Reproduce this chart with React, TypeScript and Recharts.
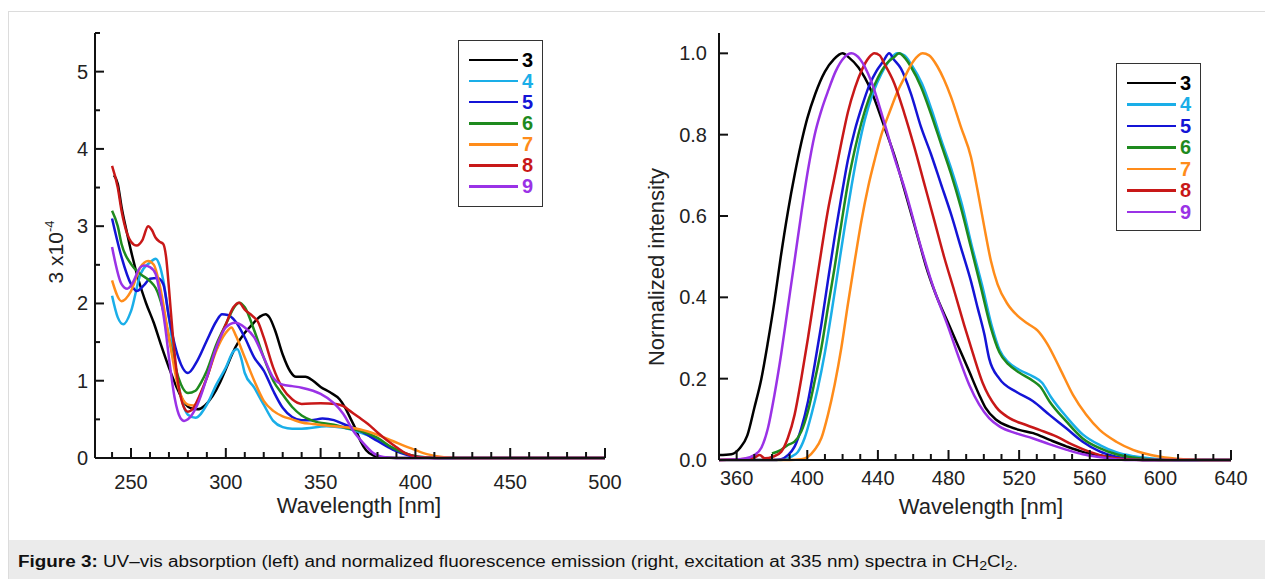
import { LineChart, Line, XAxis, YAxis } from 'recharts'

// series labels and colours (shared by both panels)
const seriesNames = ['3', '4', '5', '6', '7', '8', '9']
const seriesColors = ['#000000', '#1aaee8', '#1414d6', '#1e8a1e', '#ff8c1a', '#c81818', '#9a32e6']

// UV-vis absorption, [wavelength nm, eps x10^-4]
const abs3: [number, number][] = [
  [241, 3.66], [243, 3.55], [245, 3.25], [248, 2.9], [250, 2.68], [254, 2.3], [258, 2.0], [262, 1.75],
  [266, 1.45], [270, 1.17], [274, 0.92], [278, 0.72], [282, 0.64], [285, 0.63], [289, 0.68], [293, 0.8],
  [297, 0.98], [300, 1.15], [305, 1.43], [310, 1.62], [314, 1.73], [318, 1.83], [321, 1.86], [323, 1.82],
  [326, 1.65], [330, 1.34], [334, 1.12], [337, 1.05], [342, 1.05], [346, 1.0], [350, 0.92], [355, 0.85],
  [360, 0.76], [363, 0.65], [366, 0.5], [368, 0.4], [371, 0.22], [374, 0.1], [378, 0.03], [382, 0.01],
  [390, 0], [500, 0],
]
const abs4: [number, number][] = [
  [240, 2.1], [243, 1.82], [246, 1.73], [250, 1.9], [255, 2.38], [260, 2.53], [263, 2.58], [265, 2.5],
  [267, 2.3], [270, 1.82], [275, 0.95], [280, 0.56], [284, 0.52], [290, 0.69], [295, 0.95], [300, 1.17],
  [304, 1.38], [306, 1.41], [308, 1.3], [310, 1.1], [315, 0.91], [320, 0.69], [325, 0.48], [330, 0.4],
  [335, 0.38], [340, 0.38], [353, 0.41], [362, 0.39], [371, 0.33], [380, 0.24], [388, 0.13], [397, 0.04],
  [405, 0.01], [412, 0], [500, 0],
]
const abs5: [number, number][] = [
  [240, 3.1], [245, 2.6], [250, 2.25], [253, 2.16], [257, 2.24], [260, 2.32], [264, 2.33], [267, 2.25],
  [270, 1.82], [275, 1.3], [280, 1.1], [285, 1.26], [290, 1.52], [295, 1.77], [298, 1.86], [301, 1.85],
  [305, 1.77], [310, 1.56], [315, 1.3], [320, 1.13], [325, 0.87], [330, 0.65], [335, 0.53], [340, 0.49],
  [345, 0.49], [351, 0.51], [357, 0.49], [362, 0.44], [371, 0.35], [380, 0.22], [388, 0.11], [397, 0.03],
  [403, 0.005], [410, 0], [500, 0],
]
const abs6: [number, number][] = [
  [240, 3.2], [243, 3.0], [245, 2.77], [250, 2.51], [255, 2.38], [260, 2.29], [263, 2.2], [265, 2.08],
  [268, 1.8], [270, 1.56], [275, 1.04], [280, 0.84], [284, 0.87], [287, 0.98], [290, 1.13], [295, 1.47],
  [300, 1.73], [305, 1.97], [307, 2.01], [310, 1.95], [315, 1.65], [320, 1.3], [325, 1.0], [330, 0.82],
  [335, 0.66], [340, 0.55], [346, 0.48], [357, 0.43], [365, 0.38], [371, 0.35], [380, 0.26], [388, 0.13],
  [397, 0.04], [406, 0.005], [412, 0], [500, 0],
]
const abs7: [number, number][] = [
  [240, 2.3], [245, 2.03], [250, 2.16], [255, 2.47], [259, 2.55], [262, 2.5], [265, 2.25], [270, 1.56],
  [275, 0.91], [280, 0.69], [283, 0.68], [290, 1.04], [295, 1.39], [300, 1.62], [303, 1.69], [305, 1.6],
  [310, 1.3], [315, 1.0], [320, 0.74], [325, 0.61], [330, 0.54], [335, 0.5], [340, 0.46], [346, 0.44],
  [357, 0.41], [371, 0.37], [380, 0.3], [388, 0.22], [397, 0.13], [406, 0.05], [415, 0.01], [422, 0],
  [500, 0],
]
const abs8: [number, number][] = [
  [240, 3.78], [243, 3.5], [245, 3.2], [248, 2.9], [250, 2.8], [253, 2.75], [256, 2.82], [259, 3.0],
  [261, 2.95], [263, 2.85], [265, 2.8], [267, 2.77], [268.5, 2.6], [270, 2.2], [272, 1.6], [275, 0.95],
  [278, 0.65], [280, 0.6], [283, 0.65], [286, 0.8], [290, 1.04], [295, 1.43], [300, 1.73], [304, 1.95],
  [307, 2.01], [310, 1.92], [314, 1.84], [317, 1.76], [320, 1.56], [325, 1.17], [330, 0.9], [335, 0.76],
  [340, 0.7], [350, 0.71], [358, 0.7], [362, 0.67], [366, 0.6], [370, 0.53], [375, 0.44], [380, 0.33],
  [385, 0.23], [390, 0.14], [395, 0.06], [400, 0.02], [405, 0.005], [410, 0], [500, 0],
]
const abs9: [number, number][] = [
  [240, 2.73], [245, 2.25], [248, 2.19], [250, 2.23], [255, 2.47], [257, 2.49], [260, 2.47], [263, 2.38],
  [265, 2.16], [268, 1.7], [270, 1.3], [273, 0.78], [276, 0.52], [278, 0.48], [280, 0.5], [285, 0.69],
  [290, 1.04], [295, 1.43], [300, 1.69], [305, 1.75], [310, 1.69], [315, 1.56], [320, 1.3], [325, 1.04],
  [330, 0.95], [335, 0.93], [340, 0.91], [346, 0.87], [350, 0.83], [357, 0.71], [362, 0.57], [367, 0.36],
  [373, 0.18], [378, 0.06], [385, 0.005], [390, 0], [500, 0],
]

// normalized fluorescence emission, [wavelength nm, intensity]
const em3: [number, number][] = [
  [350, 0.012], [357, 0.014], [362, 0.03], [366, 0.06], [370, 0.128], [374, 0.2], [377.7, 0.29],
  [381.4, 0.39], [385, 0.5], [389, 0.61], [393, 0.705], [396.6, 0.78], [400, 0.84], [404.5, 0.9],
  [410, 0.955], [415, 0.985], [420, 1.0], [423.5, 0.99], [429, 0.965], [436, 0.91], [443.6, 0.82],
  [450, 0.74], [455, 0.665], [464.4, 0.52], [467, 0.48], [473, 0.405], [480, 0.335], [486, 0.275],
  [491.7, 0.218], [497.4, 0.16], [501, 0.128], [507, 0.099], [514.5, 0.082], [520, 0.074], [528, 0.066],
  [537, 0.05], [547, 0.033], [556, 0.02], [566, 0.011], [575, 0.004], [590, 0], [640, 0],
]
const em4: [number, number][] = [
  [350, 0], [385, 0], [390.9, 0.008], [394.7, 0.02], [398.5, 0.054], [402.3, 0.111], [406, 0.177],
  [409.8, 0.26], [413.6, 0.359], [417.4, 0.466], [421.2, 0.573], [425, 0.672], [428.8, 0.763],
  [432.6, 0.837], [437, 0.9], [442, 0.95], [447, 0.985], [451, 1.0], [455, 0.995], [459, 0.972],
  [465, 0.925], [470.5, 0.86], [476, 0.785], [482, 0.71], [487.5, 0.63], [493, 0.53], [499, 0.43],
  [504.5, 0.33], [509, 0.27], [514, 0.24], [520, 0.222], [528, 0.205], [533, 0.19], [538, 0.155],
  [547, 0.105], [556, 0.063], [566, 0.036], [575, 0.019], [585, 0.009], [600, 0.002], [610, 0], [640, 0],
]
const em5: [number, number][] = [
  [350, 0], [380, 0], [385.2, 0.002], [389, 0.012], [392.8, 0.033], [396.6, 0.078], [400.4, 0.144],
  [404.2, 0.235], [408, 0.334], [411.7, 0.441], [415.5, 0.548], [419.3, 0.647], [423, 0.738],
  [427, 0.812], [431, 0.87], [435, 0.92], [439, 0.955], [443, 0.98], [446.4, 1.0], [449, 0.985],
  [453, 0.963], [458.7, 0.901], [464.4, 0.819], [470, 0.753], [475.7, 0.679], [481.4, 0.605],
  [487, 0.523], [492.7, 0.44], [496.5, 0.374], [500.3, 0.309], [503, 0.25], [508.8, 0.2], [518.3, 0.168],
  [527.7, 0.145], [537.2, 0.111], [546.7, 0.078], [556, 0.045], [565.6, 0.021], [575, 0.008], [590, 0],
  [640, 0],
]
const em6: [number, number][] = [
  [380, 0.016], [385.2, 0.025], [389, 0.037], [392.8, 0.045], [396.6, 0.07], [400.4, 0.12],
  [404.2, 0.194], [408, 0.276], [411.7, 0.375], [415.5, 0.474], [419.3, 0.581], [423, 0.68],
  [426.9, 0.763], [430.7, 0.83], [435, 0.89], [440, 0.94], [445, 0.975], [449, 0.99], [452, 1.0],
  [455, 0.99], [458.7, 0.967], [464.4, 0.918], [470, 0.852], [475.7, 0.778], [481.4, 0.704], [487, 0.621],
  [492.7, 0.523], [498.4, 0.424], [504, 0.325], [508.8, 0.265], [514, 0.235], [520, 0.215], [527.7, 0.195],
  [532, 0.18], [537.2, 0.144], [546.7, 0.095], [556, 0.053], [565.6, 0.029], [575, 0.014], [584.5, 0.006],
  [600, 0], [640, 0],
]
const em7: [number, number][] = [
  [350, 0], [390, 0], [396.6, 0.002], [400.4, 0.008], [404.2, 0.025], [408, 0.054], [411.7, 0.111],
  [415.5, 0.185], [419.3, 0.276], [423, 0.383], [426.9, 0.49], [430.7, 0.589], [434.5, 0.672],
  [438.3, 0.74], [442, 0.8], [447, 0.86], [451, 0.905], [455, 0.94], [460, 0.98], [465.3, 1.0],
  [469, 0.995], [473.8, 0.967], [477.5, 0.935], [481.4, 0.893], [487, 0.819], [492.7, 0.745],
  [496.5, 0.662], [500.3, 0.572], [504, 0.49], [507.8, 0.432], [513.5, 0.383], [519, 0.355], [525, 0.335],
  [530.5, 0.318], [536, 0.285], [543, 0.226], [550.5, 0.16], [558, 0.111], [565.6, 0.074], [575, 0.045],
  [584.5, 0.025], [600, 0.008], [613, 0.002], [625, 0], [640, 0],
]
const em8: [number, number][] = [
  [350, 0], [365, 0.003], [370, 0.006], [373, 0.012], [376, 0.004], [380.5, 0.008], [385.2, 0.02],
  [389, 0.054], [392.8, 0.111], [396.6, 0.2], [400.4, 0.3], [404.2, 0.408], [408, 0.515], [411.7, 0.614],
  [415.5, 0.697], [419.3, 0.78], [423, 0.855], [427, 0.915], [431, 0.96], [435, 0.99], [438, 1.0],
  [441, 0.995], [443.6, 0.975], [449.3, 0.926], [455, 0.852], [460.6, 0.77], [466.3, 0.679], [472, 0.588],
  [477.6, 0.498], [483.3, 0.415], [489, 0.33], [493.6, 0.265], [499.3, 0.19], [507, 0.13], [514.5, 0.103],
  [524, 0.086], [531.5, 0.074], [541, 0.058], [550.5, 0.037], [560, 0.02], [569.4, 0.008], [580, 0.002],
  [590, 0], [640, 0],
]
const em9: [number, number][] = [
  [350, 0], [364, 0.003], [370, 0.012], [374, 0.03], [377.7, 0.078], [381.4, 0.16], [385.2, 0.26],
  [389, 0.375], [392.8, 0.49], [396.6, 0.606], [400.4, 0.713], [404.2, 0.8], [408, 0.86], [412, 0.91],
  [416, 0.955], [421, 0.99], [425, 1.0], [430, 0.985], [436, 0.934], [443.6, 0.83], [450, 0.735],
  [455, 0.67], [464.4, 0.523], [471, 0.43], [480, 0.325], [486, 0.25], [491.7, 0.185], [497.4, 0.136],
  [503, 0.103], [509, 0.082], [518, 0.066], [528, 0.053], [537, 0.039], [547, 0.025], [556, 0.014],
  [566, 0.007], [580, 0], [640, 0],
]

const absSeries = [abs3, abs4, abs5, abs6, abs7, abs8, abs9]
const emSeries = [em3, em4, em5, em6, em7, em8, em9]

// ticks
const absXTicks = [240, 250, 260, 270, 280, 290, 300, 310, 320, 330, 340, 350, 360, 370, 380, 390, 400,
  410, 420, 430, 440, 450, 460, 470, 480, 490, 500]
const absYTicks = [0, 0.5, 1, 1.5, 2, 2.5, 3, 3.5, 4, 4.5, 5, 5.5]
const emXTicks = [360, 370, 380, 390, 400, 410, 420, 430, 440, 450, 460, 470, 480, 490, 500, 510, 520,
  530, 540, 550, 560, 570, 580, 590, 600, 610, 620, 630, 640]
const emYTicks = [0, 0.2, 0.4, 0.6, 0.8, 1.0]

const FONT = '"Liberation Sans", Arial, sans-serif'
const INK = '#222'

const pts = (a: [number, number][]) => a.map(([x, y]) => ({ x, y }))

// inward ticks: long + labelled for majors, short for minors
const bottomTick = (isMajor: (v: number) => boolean, labelDy: number) => (props: any) => {
  const { x, y, payload } = props
  const v = payload.value
  const big = isMajor(v)
  return (
    <g>
      <line x1={x} x2={x} y1={y} y2={y - (big ? 10 : 6)} stroke="#111" strokeWidth={2} />
      {big && (
        <text x={x} y={y + labelDy} textAnchor="middle" fontSize={20} fill={INK} fontFamily={FONT}>
          {v}
        </text>
      )}
    </g>
  )
}

const leftTick = (isMajor: (v: number) => boolean, fmt: (v: number) => string, gap: number) => (props: any) => {
  const { x, y, payload } = props
  const v = payload.value
  const big = isMajor(v)
  return (
    <g>
      <line x1={x} x2={x + (big ? 9 : 5)} y1={y} y2={y} stroke="#111" strokeWidth={2} />
      {big && (
        <text x={x - gap} y={y} dy="0.35em" textAnchor="end" fontSize={20} fill={INK} fontFamily={FONT}>
          {fmt(v)}
        </text>
      )}
    </g>
  )
}

function LegendBox({ left, top, height, rowGap }: { left: number; top: number; height: number; rowGap: number }) {
  return (
    <div
      style={{
        position: 'absolute', left, top, width: 85, height, boxSizing: 'border-box',
        border: '1.5px solid #333', background: '#fff',
      }}
    >
      {seriesNames.map((name, i) => (
        <div
          key={name}
          style={{
            position: 'absolute', left: 10, top: 19 + i * rowGap - 12, height: 24,
            display: 'flex', alignItems: 'center',
          }}
        >
          <div style={{ width: 49, height: 2.5, background: seriesColors[i] }} />
          <span style={{ marginLeft: 4, color: seriesColors[i], fontWeight: 'bold', fontSize: 20, fontFamily: FONT }}>
            {name}
          </span>
        </div>
      ))}
    </div>
  )
}

function AbsorptionChart() {
  return (
    <LineChart width={640} height={530} margin={{ top: 33, right: 35, bottom: 12, left: 35 }}>
      <XAxis
        type="number"
        dataKey="x"
        domain={[231, 500]}
        ticks={absXTicks}
        interval={0}
        tickSize={0}
        tickMargin={0}
        tickLine={false}
        height={60}
        axisLine={{ stroke: '#111', strokeWidth: 2 }}
        tick={bottomTick((v) => v % 50 === 0, 31)}
        label={({ viewBox }: any) => (
          <text x={viewBox.x + viewBox.width / 2 + 9} y={viewBox.y + 55} textAnchor="middle" fontSize={22} fill={INK} fontFamily={FONT}>
            Wavelength [nm]
          </text>
        )}
      />
      <YAxis
        type="number"
        domain={[0, 5.5]}
        ticks={absYTicks}
        interval={0}
        tickSize={0}
        tickMargin={0}
        tickLine={false}
        width={60}
        axisLine={{ stroke: '#111', strokeWidth: 2 }}
        tick={leftTick((v) => Number.isInteger(v), (v) => String(v), 7)}
        label={() => (
          <text transform="rotate(-90, 63, 252)" x={63} y={252} textAnchor="middle" fontSize={21} fill={INK} fontFamily={FONT}>
            3 x10<tspan dy={-9} fontSize={13}>-4</tspan>
          </text>
        )}
      />
      {absSeries.map((s, i) => (
        <Line
          key={seriesNames[i]}
          data={pts(s)}
          dataKey="y"
          type="monotone"
          stroke={seriesColors[i]}
          strokeWidth={2.5}
          dot={false}
          activeDot={false}
          isAnimationActive={false}
        />
      ))}
    </LineChart>
  )
}

function EmissionChart() {
  return (
    <LineChart width={635} height={530} margin={{ top: 33, right: 34, bottom: 10, left: 25 }}>
      <XAxis
        type="number"
        dataKey="x"
        domain={[350, 640]}
        ticks={emXTicks}
        interval={0}
        tickSize={0}
        tickMargin={0}
        tickLine={false}
        height={60}
        axisLine={{ stroke: '#111', strokeWidth: 2 }}
        tick={bottomTick((v) => (v - 360) % 40 === 0, 25)}
        label={({ viewBox }: any) => (
          <text x={viewBox.x + viewBox.width / 2 + 6} y={viewBox.y + 54} textAnchor="middle" fontSize={22} fill={INK} fontFamily={FONT}>
            Wavelength [nm]
          </text>
        )}
      />
      <YAxis
        type="number"
        domain={[0, 1.05]}
        ticks={emYTicks}
        interval={0}
        tickSize={0}
        tickMargin={0}
        tickLine={false}
        width={64}
        axisLine={{ stroke: '#111', strokeWidth: 2 }}
        tick={leftTick(() => true, (v) => v.toFixed(1), 12)}
        label={() => (
          <text transform="rotate(-90, 34, 267)" x={34} y={267} textAnchor="middle" fontSize={22} fill={INK} fontFamily={FONT}>
            Normalized intensity
          </text>
        )}
      />
      {emSeries.map((s, i) => (
        <Line
          key={seriesNames[i]}
          data={pts(s)}
          dataKey="y"
          type="monotone"
          stroke={seriesColors[i]}
          strokeWidth={2.5}
          dot={false}
          activeDot={false}
          isAnimationActive={false}
        />
      ))}
    </LineChart>
  )
}

export default function App() {
  return (
    <div style={{ position: 'absolute', left: 0, top: 0, width: 1265, height: 579, background: '#fff', overflow: 'hidden', fontFamily: FONT }}>
      <div style={{ position: 'absolute', left: 8, top: 11, right: -10, bottom: -10, borderTop: '1px solid #dcdcdc', borderLeft: '1px solid #dcdcdc' }} />
      <div style={{ position: 'absolute', left: 0, top: 0 }}>
        <AbsorptionChart />
      </div>
      <div style={{ position: 'absolute', left: 630, top: 0 }}>
        <EmissionChart />
      </div>
      <LegendBox left={458} top={40} height={167} rowGap={21.1} />
      <LegendBox left={1116} top={63} height={168} rowGap={21.5} />
      <div style={{ position: 'absolute', left: 9, top: 540, right: 0, bottom: 0, background: '#ebebeb' }} />
      <div
        style={{
          position: 'absolute', left: 18, top: 552, fontSize: 16, lineHeight: '20px', color: '#111',
          whiteSpace: 'nowrap', transform: 'scaleX(1.18)', transformOrigin: 'left center',
        }}
      >
        <b>Figure 3:</b> UV–vis absorption (left) and normalized fluorescence emission (right, excitation at 335 nm) spectra in CH<sub style={{ fontSize: 12, verticalAlign: '-3px' }}>2</sub>Cl<sub style={{ fontSize: 12, verticalAlign: '-3px' }}>2</sub>.
      </div>
    </div>
  )
}
